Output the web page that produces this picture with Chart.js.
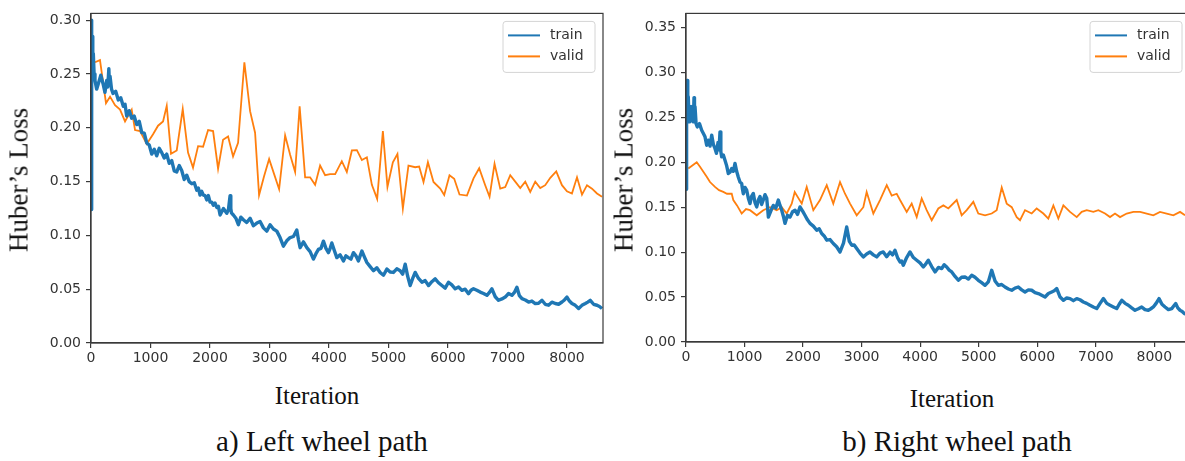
<!DOCTYPE html>
<html>
<head>
<meta charset="utf-8">
<script src="https://cdn.jsdelivr.net/npm/chart.js@4.4.1/dist/chart.umd.min.js"></script>
<style>
  html, body { margin: 0; padding: 0; background: #ffffff; width: 1185px; height: 461px; overflow: hidden; position: relative; }
  canvas { position: absolute; top: 0; }
  #c1 { left: 0px; }
  #c2 { left: 610px; }
  .t { position: absolute; font-family: "Liberation Serif", "Times New Roman", serif; color: #111; white-space: nowrap; line-height: 1; transform: translate(-50%, -50%); }
  .yl { transform: translate(-50%, -50%) rotate(-90deg); font-size: 27px; }
  .xl { font-size: 25px; }
  .cap { font-size: 29px; }
</style>
</head>
<body>
<canvas id="c1" width="610" height="375" style="width:610px;height:375px"></canvas>
<canvas id="c2" width="585" height="375" style="width:585px;height:375px"></canvas>

<div class="t yl" style="left:19px; top:180px;">Huber’s Loss</div>
<div class="t yl" style="left:624px; top:180px;">Huber’s Loss</div>
<div class="t xl" style="left:317px; top:395px;">Iteration</div>
<div class="t xl" style="left:952px; top:398px;">Iteration</div>
<div class="t cap" style="left:322px; top:441px;">a) Left wheel path</div>
<div class="t cap" style="left:957px; top:441px;">b) Right wheel path</div>

<script>
// ---------- DATA ----------
const seriesNames = ['train', 'valid'];
const xTickValues = [0, 1000, 2000, 3000, 4000, 5000, 6000, 7000, 8000];
const yTickValuesLeft = [0.00, 0.05, 0.10, 0.15, 0.20, 0.25, 0.30];
const yTickValuesRight = [0.00, 0.05, 0.10, 0.15, 0.20, 0.25, 0.30, 0.35];

// Left wheel path
const leftTrainIter = [0,8,14,20,30,39,52,67,95,123,165,207,235,264,282,300,310,320,345,370,415,459,500,543,572,600,642,684,726,769,811,853,895,937,979,1021,1063,1105,1147,1189,1231,1273,1315,1357,1399,1441,1483,1525,1567,1609,1651,1694,1736,1778,1805,1833,1861,1889,1918,1946,1973,2001,2029,2057,2085,2114,2142,2170,2226,2282,2310,2338,2350,2360,2393,2435,2477,2519,2561,2617,2674,2730,2787,2842,2898,2954,3010,3066,3123,3178,3234,3290,3347,3403,3459,3487,3515,3571,3628,3683,3739,3781,3823,3865,3907,3949,3991,4020,4048,4090,4132,4187,4243,4285,4327,4369,4411,4453,4495,4524,4553,4595,4637,4692,4748,4804,4860,4916,4973,5028,5084,5140,5197,5239,5281,5323,5365,5407,5449,5505,5562,5617,5673,5729,5785,5841,5898,5953,6009,6065,6122,6178,6234,6290,6345,6387,6429,6485,6542,6598,6655,6697,6739,6795,6850,6907,6963,7019,7075,7117,7159,7201,7244,7300,7355,7411,7467,7523,7580,7635,7691,7747,7804,7860,7916,7958,8000,8042,8084,8140,8196,8252,8309,8350,8392,8448,8505,8547,8589];
const leftTrainLoss = [0.124,0.300,0.270,0.285,0.262,0.269,0.250,0.244,0.236,0.241,0.249,0.240,0.233,0.244,0.238,0.255,0.240,0.248,0.236,0.232,0.234,0.226,0.228,0.220,0.222,0.211,0.216,0.209,0.211,0.203,0.206,0.1955,0.195,0.186,0.184,0.1756,0.180,0.174,0.181,0.177,0.172,0.1756,0.167,0.1696,0.160,0.159,0.165,0.1604,0.152,0.156,0.150,0.148,0.149,0.142,0.144,0.1375,0.141,0.1375,0.137,0.133,0.137,0.131,0.131,0.128,0.130,0.126,0.127,0.119,0.125,0.1206,0.124,0.137,0.125,0.121,0.119,0.116,0.110,0.117,0.1146,0.112,0.116,0.109,0.1115,0.113,0.107,0.104,0.110,0.106,0.104,0.098,0.090,0.095,0.098,0.099,0.105,0.096,0.0886,0.094,0.0886,0.085,0.078,0.083,0.087,0.088,0.0947,0.088,0.084,0.088,0.093,0.086,0.0794,0.082,0.0763,0.081,0.0794,0.078,0.084,0.081,0.0763,0.081,0.0855,0.080,0.0748,0.071,0.0672,0.070,0.0656,0.063,0.0687,0.066,0.0656,0.069,0.0672,0.064,0.0733,0.062,0.0534,0.060,0.0656,0.060,0.0565,0.058,0.0534,0.057,0.0596,0.056,0.0534,0.051,0.0565,0.054,0.0504,0.052,0.0489,0.050,0.0458,0.049,0.0504,0.049,0.0473,0.046,0.0443,0.047,0.0504,0.043,0.0397,0.041,0.0427,0.046,0.0443,0.047,0.0519,0.044,0.0412,0.040,0.0381,0.039,0.0367,0.037,0.0397,0.036,0.0351,0.038,0.0367,0.036,0.0381,0.040,0.0427,0.039,0.0367,0.035,0.032,0.035,0.0367,0.038,0.0397,0.036,0.0351,0.034,0.032];
const leftValidIter = [67,151,252,320,404,488,572,684,740,824,937,1043,1127,1211,1273,1345,1441,1542,1631,1715,1800,1884,1968,2052,2136,2220,2304,2388,2472,2578,2674,2758,2825,2909,2994,3078,3162,3263,3347,3431,3507,3599,3683,3767,3851,3935,4019,4104,4216,4300,4385,4469,4553,4637,4721,4810,4906,4983,5074,5151,5242,5336,5449,5516,5589,5663,5757,5870,5937,6026,6105,6194,6319,6430,6525,6626,6699,6783,6879,6963,7047,7131,7215,7299,7383,7467,7551,7635,7720,7820,7916,8000,8084,8169,8253,8337,8421,8505,8589];
const leftValidLoss = [0.261,0.263,0.223,0.229,0.221,0.217,0.206,0.217,0.198,0.197,0.185,0.194,0.202,0.206,0.2205,0.176,0.179,0.2175,0.177,0.163,0.183,0.1825,0.198,0.197,0.162,0.189,0.192,0.1735,0.186,0.261,0.2155,0.1955,0.1375,0.155,0.171,0.157,0.143,0.193,0.175,0.159,0.220,0.154,0.154,0.147,0.165,0.156,0.157,0.157,0.169,0.159,0.179,0.1793,0.170,0.1726,0.147,0.134,0.197,0.145,0.168,0.1757,0.125,0.165,0.1634,0.164,0.1497,0.168,0.1497,0.1435,0.1375,0.156,0.1527,0.138,0.137,0.153,0.1625,0.1467,0.136,0.1665,0.1435,0.145,0.156,0.150,0.144,0.150,0.1405,0.150,0.144,0.1467,0.1536,0.1595,0.1467,0.141,0.139,0.154,0.138,0.1467,0.1435,0.139,0.136];

// Right wheel path
const rightTrainIter = [0,10,22,30,39,52,68,90,114,125,137,145,154,172,193,230,268,297,325,353,381,410,439,467,495,520,547,564,581,595,610,638,666,695,723,752,781,809,837,865,893,922,951,965,979,1008,1037,1065,1093,1120,1150,1179,1208,1236,1264,1292,1320,1350,1379,1393,1407,1450,1491,1535,1577,1606,1635,1663,1691,1734,1777,1820,1862,1905,1947,1990,2032,2075,2118,2175,2233,2275,2318,2360,2404,2460,2516,2573,2631,2690,2745,2790,2831,2873,2916,2972,3029,3086,3143,3200,3258,3314,3370,3428,3485,3528,3570,3613,3656,3684,3712,3769,3826,3884,3941,3998,4054,4097,4139,4197,4254,4311,4368,4410,4453,4496,4539,4596,4652,4709,4766,4823,4880,4937,4993,5050,5108,5165,5222,5279,5335,5392,5449,5507,5564,5620,5676,5734,5791,5848,5905,5962,6018,6076,6133,6190,6247,6290,6333,6390,6446,6503,6560,6617,6674,6730,6787,6844,6901,6958,7016,7073,7130,7187,7243,7300,7357,7400,7443,7500,7556,7613,7670,7727,7784,7840,7897,7940,7983,8030,8080,8130,8183,8240,8297,8331,8365,8400,8439,8476,8513,8600];
const rightTrainLoss = [0.170,0.250,0.291,0.265,0.273,0.245,0.2505,0.262,0.258,0.245,0.272,0.250,0.262,0.243,0.2394,0.243,0.2357,0.232,0.2283,0.219,0.2246,0.218,0.2302,0.220,0.2154,0.210,0.222,0.214,0.2339,0.212,0.206,0.208,0.2023,0.196,0.1875,0.189,0.1931,0.190,0.1987,0.190,0.1837,0.178,0.1764,0.170,0.165,0.172,0.1689,0.160,0.154,0.162,0.1653,0.155,0.1503,0.158,0.162,0.153,0.158,0.164,0.160,0.150,0.139,0.146,0.152,0.149,0.158,0.152,0.1467,0.140,0.132,0.141,0.139,0.145,0.1467,0.142,0.1503,0.146,0.141,0.136,0.132,0.129,0.1244,0.126,0.1207,0.118,0.1133,0.114,0.1096,0.106,0.1002,0.110,0.128,0.112,0.1077,0.108,0.104,0.099,0.0947,0.098,0.1002,0.097,0.0947,0.099,0.1002,0.095,0.100,0.097,0.1021,0.094,0.0891,0.090,0.0854,0.094,0.1002,0.094,0.091,0.088,0.0835,0.087,0.091,0.084,0.078,0.083,0.0817,0.086,0.0835,0.080,0.078,0.073,0.0687,0.072,0.0724,0.070,0.0743,0.072,0.0687,0.066,0.0631,0.067,0.0798,0.068,0.0631,0.064,0.0612,0.059,0.0576,0.060,0.0612,0.058,0.0557,0.058,0.0576,0.055,0.0539,0.052,0.0501,0.054,0.0557,0.057,0.0595,0.050,0.0464,0.049,0.0483,0.046,0.0483,0.047,0.0445,0.043,0.0409,0.039,0.0372,0.043,0.0483,0.043,0.0409,0.039,0.0372,0.042,0.0464,0.043,0.0409,0.038,0.0353,0.037,0.039,0.036,0.0353,0.037,0.039,0.043,0.0483,0.042,0.039,0.036,0.0372,0.040,0.0428,0.038,0.0353,0.034,0.0316,0.030];
const rightValidIter = [39,120,183,239,354,410,495,564,637,700,781,808,871,951,1025,1093,1208,1320,1435,1549,1635,1720,1806,1857,1977,2062,2175,2289,2404,2516,2631,2716,2802,2916,3029,3086,3200,3314,3429,3514,3599,3656,3770,3855,3941,4026,4111,4197,4310,4396,4481,4624,4709,4795,4908,4993,5108,5222,5307,5393,5478,5564,5649,5706,5791,5905,5990,6104,6189,6275,6360,6446,6560,6674,6759,6845,6958,7044,7158,7243,7328,7414,7528,7642,7756,7870,7983,8097,8211,8325,8439,8524];
const rightValidLoss = [0.193,0.197,0.200,0.195,0.184,0.178,0.1726,0.169,0.167,0.165,0.165,0.158,0.152,0.143,0.148,0.1467,0.141,0.1467,0.150,0.1467,0.150,0.143,0.154,0.167,0.154,0.1726,0.1467,0.158,0.1745,0.154,0.178,0.165,0.154,0.141,0.150,0.167,0.143,0.158,0.1745,0.163,0.165,0.158,0.1448,0.154,0.139,0.1597,0.1467,0.1355,0.1486,0.152,0.1486,0.158,0.141,0.1467,0.156,0.143,0.141,0.143,0.1467,0.172,0.154,0.150,0.139,0.1355,0.1467,0.143,0.1486,0.143,0.1374,0.152,0.1374,0.152,0.1448,0.139,0.1448,0.1467,0.1448,0.1467,0.143,0.139,0.143,0.139,0.143,0.1448,0.1448,0.143,0.141,0.1448,0.143,0.141,0.1448,0.141];

const xMaxLeft = 8606, yMaxLeft = 0.3064;
const xMaxRight = 8609, yMaxRight = 0.3657;

// ---------- STYLE ----------
const BLUE = '#1f77b4', ORANGE = '#ff7f0e';
const AXIS = '#3a3a3a';
const TICKFONT = { family: '"DejaVu Sans", sans-serif', size: 14 };

function pts(xs, ys) { return xs.map((x, i) => ({ x: x, y: ys[i] })); }

const framePlugin = {
  id: 'frameLegend',
  afterDatasetsDraw(chart) {
    const { ctx, chartArea: a } = chart;
    ctx.save();
    ctx.strokeStyle = AXIS;
    ctx.lineWidth = 1.2;
    ctx.strokeRect(a.left, a.top, a.right - a.left, a.bottom - a.top);
    const bw = 92, bh = 51;
    const bx = a.right - 8 - bw, by = a.top + 8;
    const r = 3;
    ctx.beginPath();
    ctx.moveTo(bx + r, by);
    ctx.lineTo(bx + bw - r, by); ctx.quadraticCurveTo(bx + bw, by, bx + bw, by + r);
    ctx.lineTo(bx + bw, by + bh - r); ctx.quadraticCurveTo(bx + bw, by + bh, bx + bw - r, by + bh);
    ctx.lineTo(bx + r, by + bh); ctx.quadraticCurveTo(bx, by + bh, bx, by + bh - r);
    ctx.lineTo(bx, by + r); ctx.quadraticCurveTo(bx, by, bx + r, by);
    ctx.closePath();
    ctx.fillStyle = 'rgba(255,255,255,0.85)';
    ctx.fill();
    ctx.strokeStyle = '#d4d4d4';
    ctx.lineWidth = 1;
    ctx.stroke();
    chart.data.datasets.forEach((ds, i) => {
      const y = by + 14 + i * 21;
      ctx.beginPath();
      ctx.strokeStyle = ds.borderColor;
      ctx.lineWidth = 2;
      ctx.moveTo(bx + 5, y); ctx.lineTo(bx + 37, y);
      ctx.stroke();
      ctx.fillStyle = '#333';
      ctx.font = '14px "DejaVu Sans", sans-serif';
      ctx.textBaseline = 'middle';
      ctx.textAlign = 'left';
      ctx.fillText(ds.label, bx + 47, y);
    });
    ctx.restore();
  }
};

function makeChart(id, trainX, trainY, validX, validY, xMax, yMax, yTicks, yWidth, xHeight, pad) {
  return new Chart(document.getElementById(id), {
    type: 'scatter',
    data: {
      datasets: [
        { label: seriesNames[0], data: pts(trainX, trainY), showLine: true, borderColor: BLUE, backgroundColor: BLUE, borderWidth: 3.4, pointRadius: 0, tension: 0, fill: false, borderJoinStyle: 'round' },
        { label: seriesNames[1], data: pts(validX, validY), showLine: true, borderColor: ORANGE, backgroundColor: ORANGE, borderWidth: 1.8, pointRadius: 0, tension: 0, fill: false }
      ]
    },
    options: {
      responsive: false,
      animation: false,
      layout: { padding: pad },
      plugins: { legend: { display: false }, tooltip: { enabled: false } },
      scales: {
        x: {
          type: 'linear', min: 0, max: xMax,
          afterBuildTicks: s => { s.ticks = xTickValues.map(v => ({ value: v })); },
          ticks: { autoSkip: false, maxRotation: 0, minRotation: 0, font: TICKFONT, color: '#333', padding: 2, callback: v => String(Math.round(v)) },
          grid: { drawOnChartArea: false, drawTicks: true, tickLength: 5, color: AXIS, lineWidth: 1.2 },
          border: { display: true, color: AXIS, width: 1.2 },
          afterFit: s => { s.height = xHeight; }
        },
        y: {
          type: 'linear', min: 0, max: yMax,
          afterBuildTicks: s => { s.ticks = yTicks.map(v => ({ value: v })); },
          ticks: { autoSkip: false, font: TICKFONT, color: '#333', padding: 5, callback: v => Number(v).toFixed(2) },
          grid: { drawOnChartArea: false, drawTicks: true, tickLength: 5, color: AXIS, lineWidth: 1.2 },
          border: { display: true, color: AXIS, width: 1.2 },
          afterFit: s => { s.width = yWidth; }
        }
      }
    },
    plugins: [framePlugin]
  });
}

makeChart('c1', leftTrainIter, leftTrainLoss, leftValidIter, leftValidLoss, xMaxLeft, yMaxLeft, yTickValuesLeft, 91, 32, { top: 9, right: 7, left: 0, bottom: 0 });
makeChart('c2', rightTrainIter, rightTrainLoss, rightValidIter, rightValidLoss, xMaxRight, yMaxRight, yTickValuesRight, 76, 33, { top: 13, right: 5, left: 0, bottom: 0 });
</script>
</body>
</html>
